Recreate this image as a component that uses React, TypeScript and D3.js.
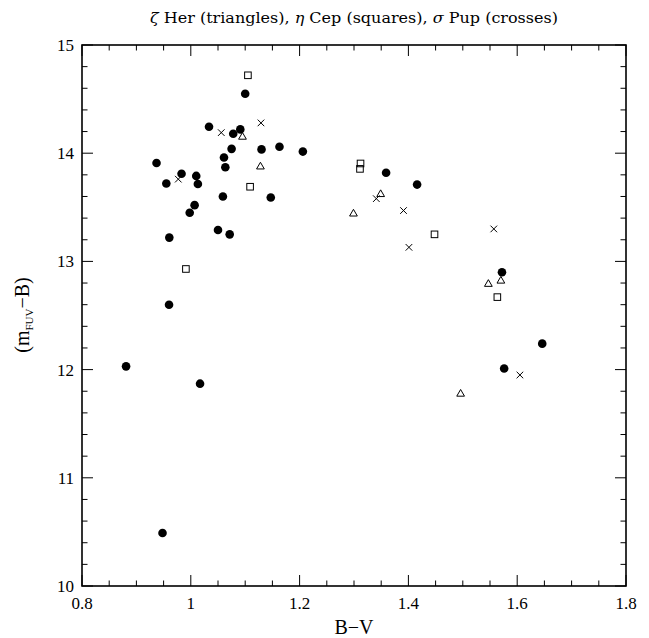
import React from "react";
import * as d3 from "d3";

// Filled circles (sample stars)
const circleBV = [1.100, 1.0335, 1.078, 1.091, 1.163, 0.937, 1.075, 1.130, 1.061, 1.0635, 0.983, 0.955, 1.010, 1.013, 1.059, 1.147, 1.007, 0.998, 1.050, 1.0715, 0.9605, 0.960, 0.881, 1.017, 0.948, 1.206, 1.359, 1.416, 1.572, 1.646, 1.576];
const circleFUV = [14.55, 14.245, 14.18, 14.22, 14.06, 13.91, 14.04, 14.035, 13.96, 13.87, 13.81, 13.72, 13.79, 13.715, 13.60, 13.59, 13.52, 13.45, 13.29, 13.25, 13.22, 12.60, 12.03, 11.87, 10.49, 14.015, 13.82, 13.71, 12.90, 12.24, 12.01];

// zeta Her (triangles)
const triBV = [1.095, 1.128, 1.349, 1.299, 1.547, 1.570, 1.496];
const triFUV = [14.15, 13.875, 13.62, 13.44, 12.79, 12.82, 11.775];

// eta Cep (squares)
const sqBV = [1.105, 1.109, 0.991, 1.312, 1.311, 1.448, 1.5635];
const sqFUV = [14.72, 13.69, 12.93, 13.905, 13.855, 13.25, 12.67];

// sigma Pup (crosses)
const crBV = [1.056, 1.129, 0.977, 1.341, 1.391, 1.401, 1.557, 1.605];
const crFUV = [14.19, 14.28, 13.76, 13.58, 13.47, 13.13, 13.30, 11.95];

const xTicks = [0.8, 1.0, 1.2, 1.4, 1.6, 1.8];
const xTickLabels = ["0.8", "1", "1.2", "1.4", "1.6", "1.8"];
const yTicks = [10, 11, 12, 13, 14, 15];

const W = 649, H = 638;
const L = 82, R = 626, T = 45, B = 586;

export default function App() {
  const x = d3.scaleLinear().domain([0.8, 1.8]).range([L, R]);
  const y = d3.scaleLinear().domain([10, 15]).range([B, T]);
  const xMinor = d3.range(0.8, 1.8001, 0.05).filter(v => Math.abs(Math.round(v * 5) - v * 5) > 1e-6);
  const yMinor = d3.range(10, 15.0001, 0.2).filter(v => Math.abs(Math.round(v) - v) > 1e-6);
  const font = "'Liberation Serif', 'DejaVu Serif', serif";
  const tri = d3.symbol().type(d3.symbolTriangle).size(26)();

  return (
    <svg width={W} height={H} style={{ position: "fixed", left: 0, top: 0, background: "#fff" }} fontFamily={font}>
      <rect x={0} y={0} width={W} height={H} fill="#fff" />
      <text x={(L + R) / 2} y={23} textAnchor="middle" fontSize={14} fontFamily="'DejaVu Serif', serif"
        textLength={408} lengthAdjust="spacingAndGlyphs">
        <tspan fontStyle="italic">ζ</tspan> Her (triangles), <tspan fontStyle="italic">η</tspan> Cep (squares), <tspan fontStyle="italic">σ</tspan> Pup (crosses)
      </text>
      {/* ticks */}
      <g stroke="#000" strokeWidth={1}>
        {xTicks.map(v => (
          <g key={"xt" + v}>
            <line x1={x(v)} x2={x(v)} y1={B} y2={B - 11} />
            <line x1={x(v)} x2={x(v)} y1={T} y2={T + 11} />
          </g>
        ))}
        {xMinor.map(v => (
          <g key={"xm" + v}>
            <line x1={x(v)} x2={x(v)} y1={B} y2={B - 5.5} />
            <line x1={x(v)} x2={x(v)} y1={T} y2={T + 5.5} />
          </g>
        ))}
        {yTicks.map(v => (
          <g key={"yt" + v}>
            <line x1={L} x2={L + 11} y1={y(v)} y2={y(v)} />
            <line x1={R} x2={R - 11} y1={y(v)} y2={y(v)} />
          </g>
        ))}
        {yMinor.map(v => (
          <g key={"ym" + v}>
            <line x1={L} x2={L + 5.5} y1={y(v)} y2={y(v)} />
            <line x1={R} x2={R - 5.5} y1={y(v)} y2={y(v)} />
          </g>
        ))}
      </g>
      <rect x={L} y={T} width={R - L} height={B - T} fill="none" stroke="#000" strokeWidth={1.6} />
      {/* tick labels */}
      {xTicks.map((v, i) => (
        <text key={"xl" + v} x={x(v)} y={609} textAnchor="middle" fontSize={17}>{xTickLabels[i]}</text>
      ))}
      {yTicks.map(v => (
        <text key={"yl" + v} x={74} y={y(v)} dy="0.35em" textAnchor="end" fontSize={17}>{v}</text>
      ))}
      <text x={(L + R) / 2} y={634} textAnchor="middle" fontSize={20}>B−V</text>
      <text transform={`translate(29,315) rotate(-90)`} textAnchor="middle" fontSize={20}>
        (m<tspan fontSize={11} dy={4}>FUV</tspan><tspan dy={-4}>−B)</tspan>
      </text>
      {/* data */}
      <g fill="#000">
        {circleBV.map((v, i) => (
          <circle key={"c" + i} cx={x(v)} cy={y(circleFUV[i])} r={4.3} />
        ))}
      </g>
      <g fill="none" stroke="#000" strokeWidth={1}>
        {triBV.map((v, i) => (
          <path key={"t" + i} d={tri} transform={`translate(${x(v)},${y(triFUV[i])})`} />
        ))}
        {sqBV.map((v, i) => (
          <rect key={"s" + i} x={x(v) - 3.3} y={y(sqFUV[i]) - 3.3} width={6.6} height={6.6} />
        ))}
        {crBV.map((v, i) => (
          <g key={"x" + i} transform={`translate(${x(v)},${y(crFUV[i])})`}>
            <line x1={-3.3} y1={-3.3} x2={3.3} y2={3.3} />
            <line x1={-3.3} y1={3.3} x2={3.3} y2={-3.3} />
          </g>
        ))}
      </g>
    </svg>
  );
}
